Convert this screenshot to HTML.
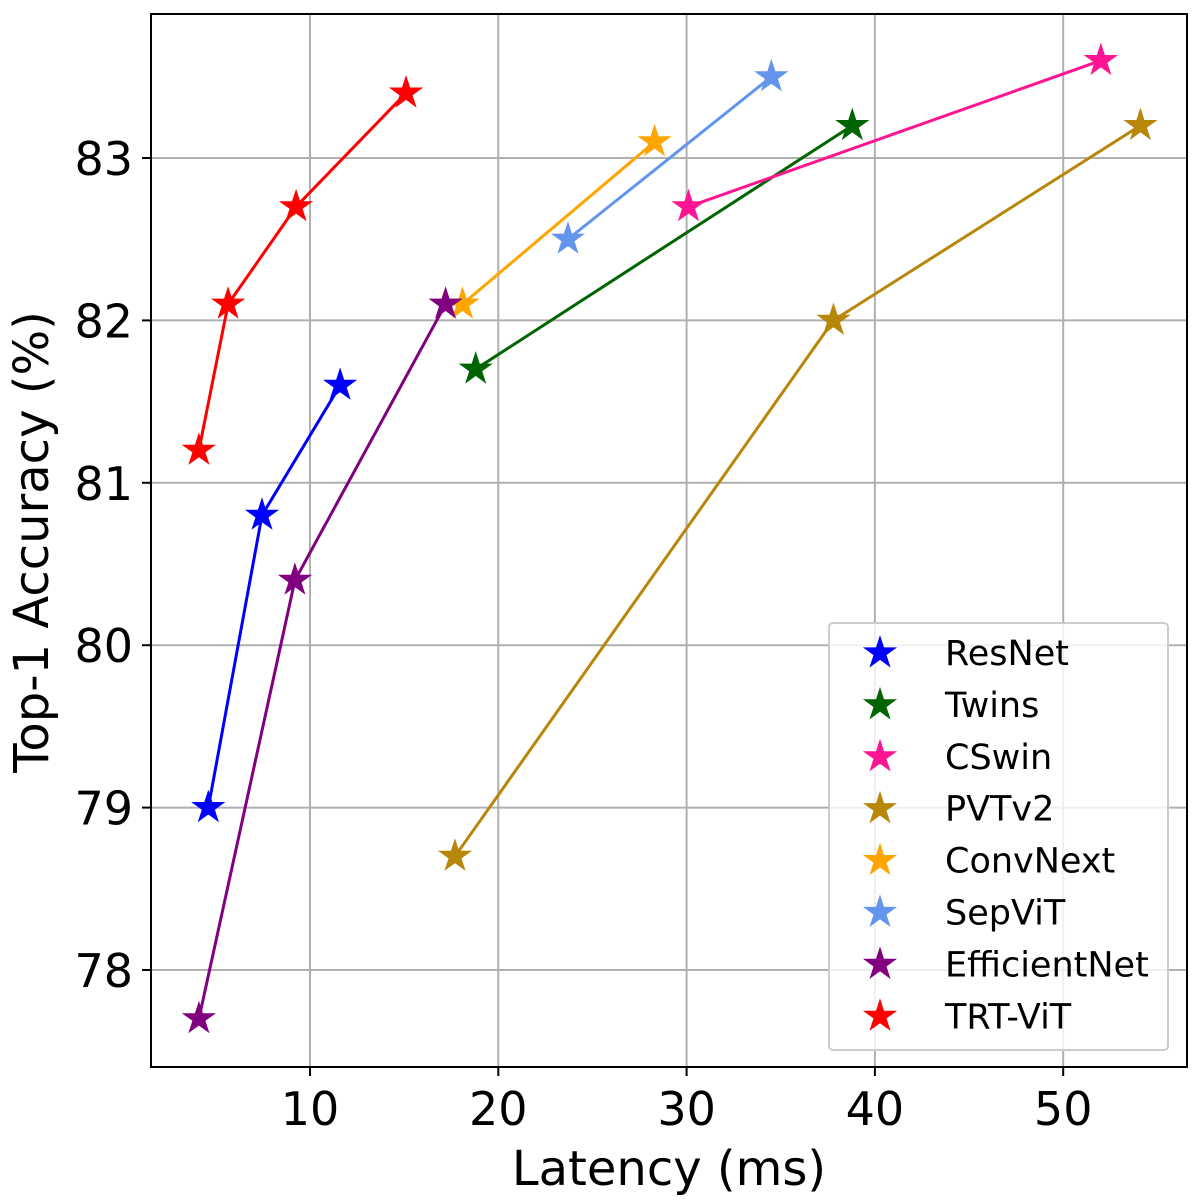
<!DOCTYPE html>
<html><head><meta charset="utf-8"><style>
html,body{margin:0;padding:0;background:#fff}
svg{display:block}
text{font-family:"DejaVu Sans","Liberation Sans",sans-serif}
</style></head><body>
<svg id="chart" width="1200" height="1200" viewBox="0 0 1200 1200" xmlns="http://www.w3.org/2000/svg">
<rect x="0" y="0" width="1200" height="1200" fill="#fff"/>
<g id="grid"></g>
<g id="series"></g>
<rect x="151" y="14" width="1036" height="1053" fill="none" stroke="#000" stroke-width="2"/>
<g id="ticks"></g>
<text x="669" y="1185" font-size="48" text-anchor="middle">Latency (ms)</text>
<text transform="translate(48,542) rotate(-90)" font-size="48" text-anchor="middle">Top-1 Accuracy (%)</text>
<g id="legend"></g>
</svg>
<script>
const categories = ["ResNet","Twins","CSwin","PVTv2","ConvNext","SepViT","EfficientNet","TRT-ViT"];
const colors = ["#0000ff","#006400","#ff1493","#b8860b","#ffa500","#6495ed","#800080","#ff0000"];
const xVals = [
  [4.6,7.45,11.6],
  [18.8,38.8],
  [30.1,52.0],
  [17.7,37.8,54.1],
  [18.1,28.3],
  [23.7,34.5],
  [4.1,9.2,17.2],
  [4.1,5.65,9.26,15.1]
];
const yVals = [
  [79.0,80.8,81.6],
  [81.7,83.2],
  [82.7,83.6],
  [78.7,82.0,83.2],
  [82.1,83.1],
  [82.5,83.5],
  [77.7,80.4,82.1],
  [81.2,82.1,82.7,83.4]
];
const xTicks = [10,20,30,40,50];
const yTicks = [78,79,80,81,82,83];

const NS="http://www.w3.org/2000/svg";
function sx(v){return 310+(v-10)*18.83;}
function sy(v){return 158+(83-v)*162.4;}
function mk(tag,attrs,parent){const e=document.createElementNS(NS,tag);for(const k in attrs)e.setAttribute(k,attrs[k]);parent.appendChild(e);return e;}
function starPts(cx,cy,R){const r=R*0.382;let p=[];for(let i=0;i<10;i++){const a=-Math.PI/2+i*Math.PI/5;const rr=i%2?r:R;p.push((cx+rr*Math.cos(a)).toFixed(1)+","+(cy+rr*Math.sin(a)).toFixed(1));}return p.join(" ");}

const grid=document.getElementById('grid'),ticks=document.getElementById('ticks'),series=document.getElementById('series'),legend=document.getElementById('legend');
xTicks.forEach(t=>{
  const l=mk('line',{x1:sx(t),x2:sx(t),y1:14,y2:1067,stroke:'#b0b0b0','stroke-width':2},grid);
  
  
  const tk=mk('line',{x1:sx(t),x2:sx(t),y1:1067,y2:1076,stroke:'#000','stroke-width':2},ticks);
  
  
  const tx=mk('text',{x:sx(t),y:1125,'font-size':46,'text-anchor':'middle'},ticks);
  tx.textContent=t;
  
  
});
yTicks.forEach(t=>{
  const l=mk('line',{x1:151,x2:1187,y1:sy(t),y2:sy(t),stroke:'#b0b0b0','stroke-width':2},grid);
  
  
  const tk=mk('line',{x1:142,x2:151,y1:sy(t),y2:sy(t),stroke:'#000','stroke-width':2},ticks);
  
  
  const tx=mk('text',{x:133,y:sy(t)+17,'font-size':46,'text-anchor':'end'},ticks);
  tx.textContent=t;
  
  
});
categories.forEach((c,i)=>{
  const g=mk('g',{},series);
  
  
  const pts=xVals[i].map((x,j)=>sx(x)+","+sy(yVals[i][j])).join(" ");
  const pl=mk('polyline',{points:pts,fill:'none',stroke:colors[i],'stroke-width':3},g);
  
  
  xVals[i].forEach((x,j)=>{
    const s=mk('polygon',{points:starPts(sx(x),sy(yVals[i][j]),18),fill:colors[i]},g);
    
    
  });
});
const lb=mk('rect',{x:829,y:623,width:339,height:427,rx:4,fill:'#fff','fill-opacity':0.8,stroke:'#ccc','stroke-width':2},legend);


categories.forEach((c,i)=>{
  const y=653+i*51.9;
  const g=mk('g',{},legend);
  
  
  const s=mk('polygon',{points:starPts(880,y,18),fill:colors[i]},g);
  
  
  const t=mk('text',{x:945,y:y+12,'font-size':35},g);
  t.textContent=c;
  
  
});
</script>
</body></html>
